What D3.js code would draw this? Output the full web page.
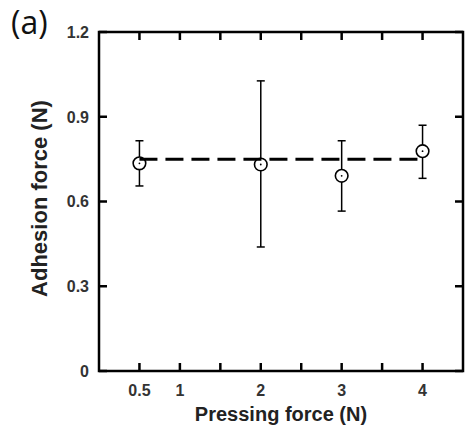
<!DOCTYPE html>
<html>
<head>
<meta charset="utf-8">
<script src="https://cdn.jsdelivr.net/npm/d3@7"></script>
<style>
  body { margin: 0; background: #fff; }
  svg { display: block; }
</style>
</head>
<body>
<div id="chart"></div>
<script>
// pressing force (N) and measured adhesion force (N)
const pressing = [0.5, 2, 3, 4];
const adhesion = [0.735, 0.731, 0.691, 0.778];
const errLow = [0.655, 0.439, 0.566, 0.682];
const errHigh = [0.815, 1.027, 0.815, 0.870];
const meanLine = 0.75;

const xTicks = [0.5, 1, 1.5, 2, 2.5, 3, 3.5, 4];
const xLabels = [0.5, 1, 2, 3, 4];
const yTicks = [0, 0.3, 0.6, 0.9, 1.2];

const width = 465, height = 430;
const margin = { top: 32, right: 2, bottom: 59, left: 99 };

const svg = d3.select("#chart").append("svg")
    .attr("width", width)
    .attr("height", height);

const x = d3.scaleLinear().domain([0, 4.5]).range([margin.left, width - margin.right]);
const y = d3.scaleLinear().domain([0, 1.2]).range([height - margin.bottom, margin.top]);

const tickLen = 8;
const tickFont = "bold 16px 'Liberation Sans', Arial, sans-serif";

// inward ticks on all four sides
const ticks = svg.append("g").attr("stroke", "#000").attr("stroke-width", 2.5);
xTicks.forEach(t => {
    ticks.append("line").attr("x1", x(t)).attr("x2", x(t)).attr("y1", y(0)).attr("y2", y(0) - tickLen);
    ticks.append("line").attr("x1", x(t)).attr("x2", x(t)).attr("y1", y(1.2)).attr("y2", y(1.2) + tickLen);
});
yTicks.forEach(t => {
    ticks.append("line").attr("x1", x(0)).attr("x2", x(0) + tickLen).attr("y1", y(t)).attr("y2", y(t));
    ticks.append("line").attr("x1", x(4.5)).attr("x2", x(4.5) - tickLen).attr("y1", y(t)).attr("y2", y(t));
});

// frame
svg.append("rect")
    .attr("x", x(0))
    .attr("y", y(1.2))
    .attr("width", x(4.5) - x(0))
    .attr("height", y(0) - y(1.2))
    .attr("fill", "none")
    .attr("stroke", "#000")
    .attr("stroke-width", 2.5);

// tick labels
svg.append("g").selectAll("text")
    .data(xLabels)
    .enter().append("text")
    .attr("x", d => x(d))
    .attr("y", y(0) + 25)
    .attr("text-anchor", "middle")
    .attr("fill", "#333")
    .style("font", tickFont)
    .text(d => d);

svg.append("g").selectAll("text")
    .data(yTicks)
    .enter().append("text")
    .attr("x", x(0) - 10)
    .attr("y", d => y(d))
    .attr("dy", "0.36em")
    .attr("text-anchor", "end")
    .attr("fill", "#333")
    .style("font", tickFont)
    .text(d => d === 0 ? "0" : d.toFixed(1));

// axis titles
svg.append("text")
    .attr("x", (x(0) + x(4.5)) / 2)
    .attr("y", 421)
    .attr("text-anchor", "middle")
    .attr("fill", "#222")
    .style("font", "bold 20px 'Liberation Sans', Arial, sans-serif")
    .text("Pressing force (N)");

svg.append("text")
    .attr("transform", `translate(47,${(y(0) + y(1.2)) / 2 - 3}) rotate(-90)`)
    .attr("text-anchor", "middle")
    .attr("fill", "#222")
    .style("font", "bold 22px 'Liberation Sans', Arial, sans-serif")
    .text("Adhesion force (N)");

svg.append("text")
    .attr("x", 11)
    .attr("y", 34)
    .attr("fill", "#111")
    .style("font", "32px 'Open Sans', sans-serif")
    .text("(a)");

// error bars
const bars = svg.append("g").attr("stroke", "#000").attr("stroke-width", 1.5);
pressing.forEach((p, i) => {
    bars.append("line")
        .attr("x1", x(p)).attr("x2", x(p))
        .attr("y1", y(errLow[i])).attr("y2", y(errHigh[i]));
    [errLow[i], errHigh[i]].forEach(v => {
        bars.append("line")
            .attr("x1", x(p) - 4).attr("x2", x(p) + 4)
            .attr("y1", y(v)).attr("y2", y(v));
    });
});

// markers
svg.append("g").selectAll("circle")
    .data(pressing)
    .enter().append("circle")
    .attr("cx", d => x(d))
    .attr("cy", (d, i) => y(adhesion[i]))
    .attr("r", 6.3)
    .attr("fill", "#fff")
    .attr("stroke", "#000")
    .attr("stroke-width", 1.6);

svg.append("g").selectAll("circle")
    .data(pressing)
    .enter().append("circle")
    .attr("cx", d => x(d))
    .attr("cy", (d, i) => y(adhesion[i]))
    .attr("r", 0.9)
    .attr("fill", "#000");

// mean dashed line
svg.append("line")
    .attr("x1", x(pressing[0]))
    .attr("x2", x(pressing[pressing.length - 1]))
    .attr("y1", y(meanLine))
    .attr("y2", y(meanLine))
    .attr("stroke", "#000")
    .attr("stroke-width", 3)
    .attr("stroke-dasharray", "18 8");
</script>
</body>
</html>
